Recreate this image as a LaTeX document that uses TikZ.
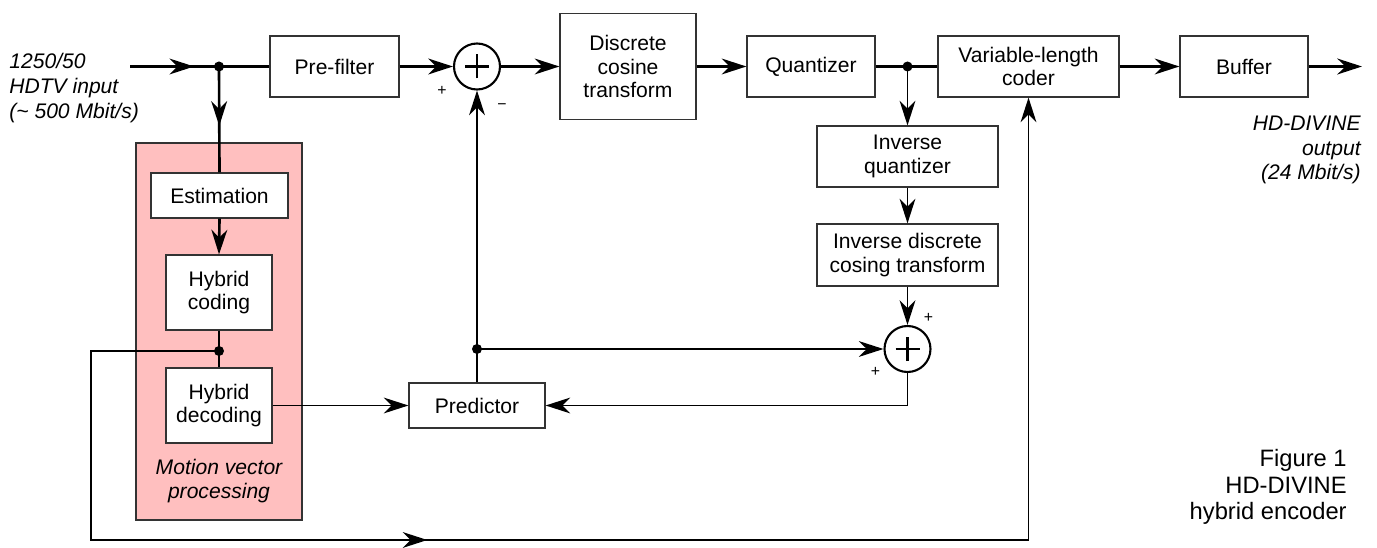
\documentclass[tikz,border=0pt]{standalone}
\usepackage{fontspec}
\setmainfont{Liberation Sans}
\usetikzlibrary{arrows.meta,positioning,decorations.markings}
\definecolor{mvpink}{RGB}{255,191,191}

\tikzset{
  >={Stealth[length=14pt,width=9pt,inset=4.5pt]},
  block/.style={draw=black!80, line width=0.7pt, fill=white, inner sep=0pt,
    align=center, font=\fontsize{12}{13.6}\selectfont},
  sumnode/.style={circle, draw, line width=1.2pt, fill=white, inner sep=0pt,
    minimum size=9.2mm,
    path picture={\draw[line width=1.3pt]
      ([xshift=-2.4mm]path picture bounding box.center) -- ([xshift=2.4mm]path picture bounding box.center)
      ([yshift=-2.4mm]path picture bounding box.center) -- ([yshift=2.4mm]path picture bounding box.center);}},
  mainline/.style={line width=1.5pt},
  sideline/.style={line width=0.85pt},
  midarrow/.style={postaction={decorate},
    decoration={markings, mark=at position #1 with {\arrow{>}}}},
  sign/.style={inner sep=0pt, font=\fontsize{9}{9}\selectfont},
  dot/.style={circle, fill, inner sep=0pt, minimum size=2mm},
  lbl/.style={inner sep=0pt, font=\fontsize{12}{14}\selectfont}
}

\begin{document}
\begin{tikzpicture}[x=0.2mm, y=-0.2mm]
  \useasboundingbox (0,0) rectangle (1377,548);

  % motion vector processing area
  \node[draw=black!80, line width=0.7pt, fill=mvpink, minimum width=33.2mm,
    minimum height=75.4mm, inner sep=0pt] (mvp) at (219,331.5) {};
  \node[lbl, align=center, font=\fontsize{12}{14}\selectfont\itshape] (mvplbl) at (219,481)
    {Motion vector\\processing};

  % blocks
  \node[block, minimum width=25.8mm, minimum height=12.2mm] (pre) at (334.5,66.5) {Pre-filter};
  \node[sumnode] (sum1) at (477,66.5) {};
  \node[block, minimum width=27.2mm, minimum height=21.2mm] (dct) at (628,66.5) {Discrete\\cosine\\transform};
  \node[block, minimum width=25.6mm, minimum height=12.2mm] (quant) at (811,66.5) {Quantizer};
  \node[block, minimum width=36.2mm, minimum height=12.2mm] (vlc) at (1028.5,66.5) {Variable-length\\coder};
  \node[block, minimum width=25.6mm, minimum height=12.2mm] (buf) at (1244,66.5) {Buffer};
  \node[block, minimum width=36.2mm, minimum height=12.2mm] (iquant) at (907.5,156.5) {Inverse\\quantizer};
  \node[block, minimum width=36.2mm, minimum height=12.4mm] (idct) at (907.5,255) {Inverse discrete\\cosing transform};
  \node[sumnode] (sum2) at (907.5,349) {};
  \node[block, minimum width=27.2mm, minimum height=9mm] (pred) at (477,405.5) {Predictor};
  \node[block, minimum width=27.4mm, minimum height=9mm] (est) at (219.5,195.5) {Estimation};
  \node[block, minimum width=21.2mm, minimum height=15mm] (hcod) at (219,292.5) {Hybrid\\coding};
  \node[block, minimum width=21.2mm, minimum height=15mm] (hdec) at (219,405.5) {Hybrid\\decoding};

  % branch points
  \node[dot] (j1) at (219,66.5) {};
  \node[dot] (j2) at (907.5,66.5) {};
  \node[dot] (j3) at (219,351) {};
  \node[dot] (j4) at (477,349) {};
  \coordinate (in) at (130,66.5);
  \coordinate (out) at (1362,66.5);
  \coordinate (lft) at (91,540);

  % forward path
  \draw[mainline, midarrow=0.72] (in) -- (j1.center);
  \draw[mainline] (j1.center) -- (pre.west);
  \draw[mainline, ->] (pre.east) -- (sum1.west);
  \draw[mainline, ->] (sum1.east) -- (dct.west);
  \draw[mainline, ->] (dct.east) -- (quant.west);
  \draw[mainline] (quant.east) -- (vlc.west);
  \draw[mainline, ->] (vlc.east) -- (buf.west);
  \draw[mainline, ->] (buf.east) -- (out);

  % motion vectors
  \draw[mainline, midarrow=0.56] (j1.center) -- (est.north);
  \draw[mainline, ->] (est.south) -- (hcod.north);
  \draw[mainline] (hcod.south) -- (hdec.north);
  \draw[sideline, ->, midarrow=0.385] (j3.center) -- (j3 -| lft) -- (lft) -- (vlc.south |- lft) -- (vlc.south);
  \draw[sideline, ->] (hdec.east) -- (pred.west);

  % prediction loop
  \draw[line width=1.1pt, ->] (j2.center) -- (iquant.north);
  \draw[sideline, ->] (iquant.south) -- (idct.north);
  \draw[sideline, ->] (idct.south) -- (sum2.north);
  \draw[sideline, ->] (j4.center) -- (sum2.west);
  \draw[sideline, ->] (sum2.south) |- (pred.east);
  \draw[sideline, ->] (pred.north) -- (sum1.south);

  % signs at the adders
  \node[sign] (s1a) at ([shift={(-35,24)}]sum1.center) {+};
  \node[sign] (s1b) at ([shift={(25,40)}]sum1.center) {−};
  \node[sign] (s2a) at ([shift={(21,-31)}]sum2.center) {+};
  \node[sign] (s2b) at ([shift={(-32,23)}]sum2.center) {+};

  % texts
  \node[lbl, anchor=west, align=left, font=\fontsize{12}{14}\selectfont\itshape] (inlbl) at (9,88)
    {1250/50\\HDTV input\\(\textasciitilde{} 500 Mbit/s)};
  \node[lbl, anchor=east, align=right, font=\fontsize{12}{14}\selectfont\itshape] (outlbl) at (1361,150)
    {HD-DIVINE\\output\\(24 Mbit/s)};
  \node[lbl, anchor=east, align=right, font=\fontsize{13.5}{15}\selectfont] (figlbl) at (1347,487)
    {Figure 1\\HD-DIVINE\\hybrid encoder};
\end{tikzpicture}
\end{document}
